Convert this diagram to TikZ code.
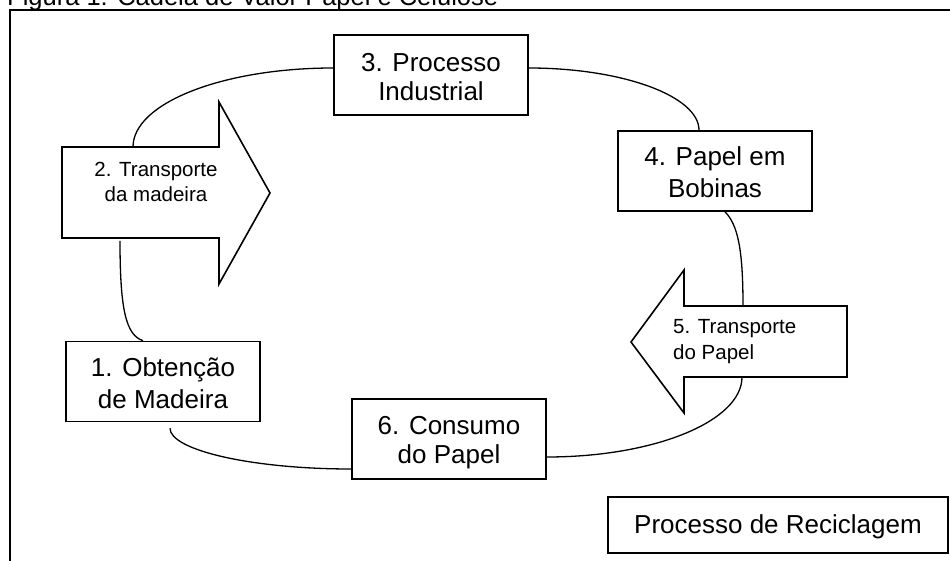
\documentclass[tikz,border=0pt]{standalone}
\usepackage{fontspec}
\setmainfont{Liberation Sans}
\newcommand\bs{\rule[-3.7pt]{0pt}{29pt}}
\tikzset{
  boxnode/.style={draw, line width=1.6pt, minimum width=194pt, minimum height=80pt,
    inner sep=0pt, align=center, font=\fontsize{26}{29}\selectfont},
  arrowtext/.style={inner sep=0pt, font=\fontsize{20.5}{25}\selectfont},
  conn/.style={line width=1.3pt},
  arrowshape/.style={draw, line width=1.6pt, line join=miter, fill=white},
  framestyle/.style={line width=2.2pt},
}
\begin{document}
\begin{tikzpicture}[x=1pt, y=-1pt]
\useasboundingbox (0,0) rectangle (950,561);
\clip (0,0) rectangle (950,561);

% title (cut off at the top)
\node[anchor=base west, inner sep=0pt, font=\fontsize{25.5}{30}\selectfont] (title) at (7,6)
  {Figura 1: Cadeia de Valor Papel e Celulose};

% frame
\draw[framestyle] (10,561) -- (10,10) -- (950,10);

% boxes
\node[boxnode] (b3) at (431,75) {\bs 3. Processo\\\bs Industrial};
\node[boxnode] (b4) at (715,171) {\bs 4. Papel em\\\bs Bobinas};
\node[boxnode] (b1) at (163,381.5) {\bs 1. Obtenção\\\bs de Madeira};
\node[boxnode] (b6) at (449,439) {\bs 6. Consumo\\\bs do Papel};
\node[draw, line width=1.6pt, minimum width=340pt, minimum height=56pt, inner sep=0pt,
  text height=20pt, text depth=4pt, font=\fontsize{26}{29}\selectfont] (rec) at (778,525)
  {Processo de Reciclagem};

% block arrows
\draw[arrowshape] (62,147) -- (219,147) -- (219,102) -- (270,193) -- (219,284)
  -- (219,238) -- (62,238) -- cycle;
\draw[arrowshape] (847,306) -- (684,306) -- (684,270) -- (631,342) -- (684,413)
  -- (684,377) -- (847,377) -- cycle;
\node[arrowtext, align=center] (t2) at (156,184.5) {\strut 2. Transporte\\\strut da madeira};
\node[arrowtext, align=left, anchor=west, font=\fontsize{20.5}{26}\selectfont] (t5) at (673,340.8)
  {\strut 5. Transporte\\\strut do Papel};

\coordinate (a2top) at (133,147);
\coordinate (a2bot) at (120,241);
\coordinate (a5top) at (743,306);
\coordinate (a5bot) at (742,377);

% connectors
\draw[conn] (a2top) .. controls (133,103) and (223,68) .. ([yshift=7pt]b3.west);
\draw[conn] ([yshift=7pt]b3.east) .. controls (622,68) and (699,96) .. ([xshift=-16pt]b4.north);
\draw[conn] ([xshift=10pt]b4.south) .. controls (738,225) and (743,250) .. (a5top);
\draw[conn] (a5bot) .. controls (742,421) and (655,457) .. ([yshift=-18pt]b6.east);
\draw[conn] ([xshift=7pt,yshift=-6pt]b1.south) .. controls (170,450) and (251,469) .. ([yshift=-30pt]b6.west);
\draw[conn] (a2bot) .. controls (120,310) and (126,335) .. ([xshift=-20pt]b1.north);
\end{tikzpicture}
\end{document}
